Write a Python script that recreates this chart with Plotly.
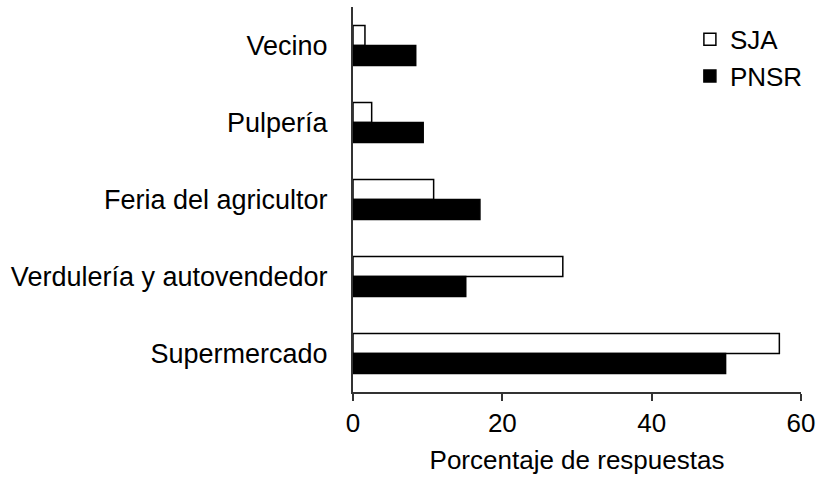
import plotly.graph_objects as go

categories = ["Vecino", "Pulpería", "Feria del agricultor", "Verdulería y autovendedor", "Supermercado"]
sja = [1.6, 2.5, 10.8, 28.1, 57.1]
pnsr = [8.4, 9.4, 17.0, 15.1, 49.9]
x_ticks = [0, 20, 40, 60]

FONT = "Liberation Sans, Arial, sans-serif"

fig = go.Figure()
fig.add_trace(go.Bar(y=categories, x=sja, orientation="h", name="SJA",
                     marker=dict(color="white", line=dict(color="black", width=1.5))))
fig.add_trace(go.Bar(y=categories, x=pnsr, orientation="h", name="PNSR",
                     marker=dict(color="black", line=dict(color="black", width=1.5))))

fig.update_layout(
    width=817, height=477,
    margin=dict(l=353, r=16, t=7, b=85, autoexpand=False),
    plot_bgcolor="white", paper_bgcolor="white",
    barmode="group", bargap=0.48, bargroupgap=0,
    font=dict(family=FONT, size=26, color="black"),
    showlegend=True,
    legend=dict(x=0.752, y=0.977, xanchor="left", yanchor="top",
                font=dict(size=26), bgcolor="rgba(0,0,0,0)",
                tracegroupgap=0, itemwidth=30),
)
fig.update_xaxes(range=[0, 60], tickvals=x_ticks, ticks="outside", ticklen=7, tickwidth=2,
                 tickcolor="#333", showline=True, linecolor="#333", linewidth=2,
                 showgrid=False, zeroline=False, automargin=False,
                 title=dict(text="Porcentaje de respuestas", font=dict(size=26), standoff=14),
                 tickfont=dict(size=26))
fig.update_yaxes(type="category", range=[4.5, -0.5], showline=True, linecolor="#333", linewidth=2,
                 ticks="", showgrid=False, zeroline=False, tickfont=dict(size=27),
                 ticklabelstandoff=18, automargin=False)

fig.write_html("out.html", config={"displayModeBar": False},
               post_script="document.body.style.margin='0px';document.body.style.overflow='hidden';")
